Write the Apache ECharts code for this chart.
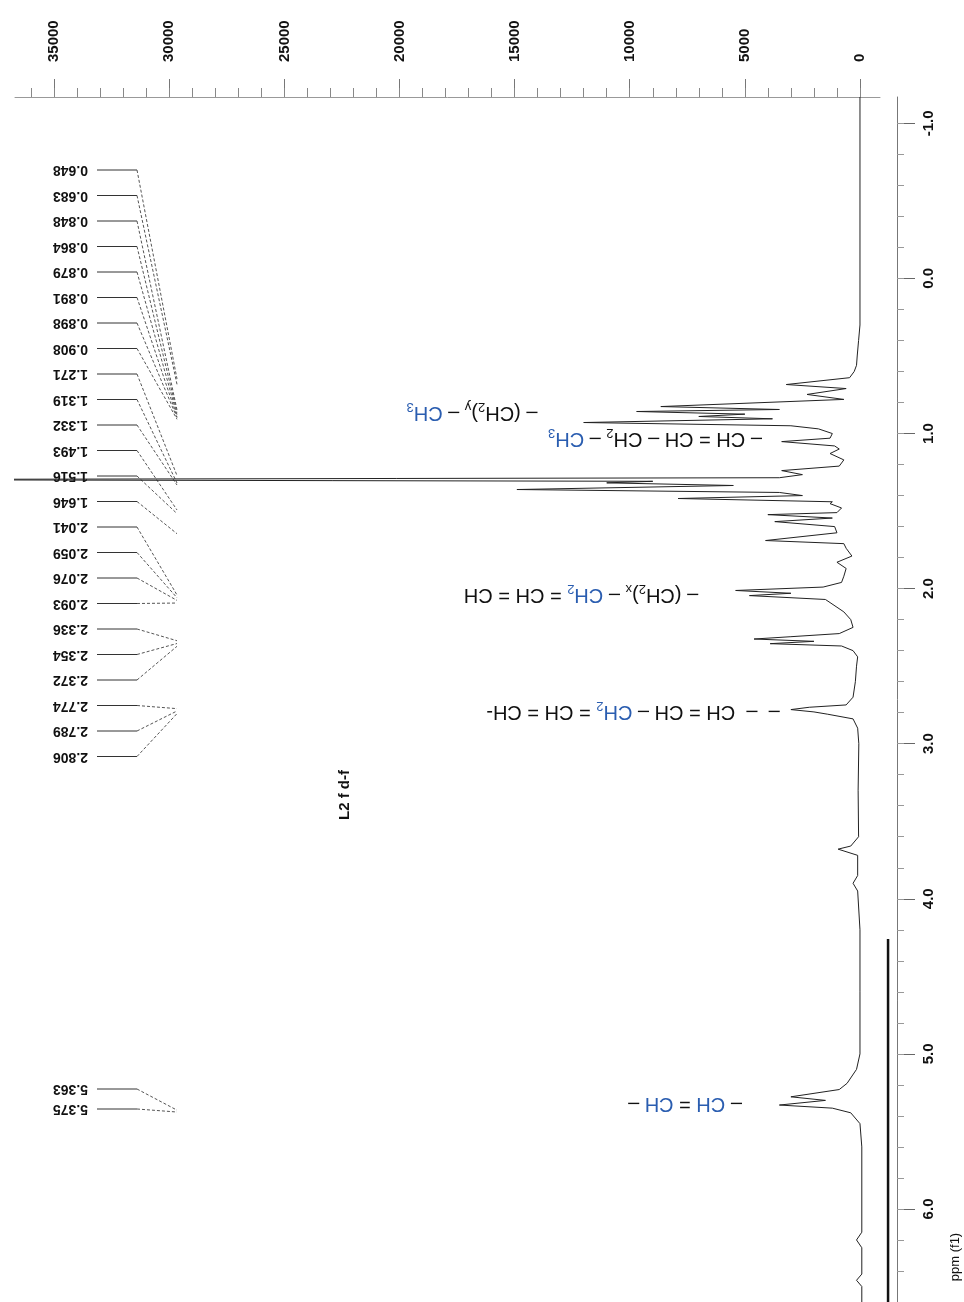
<!DOCTYPE html>
<html><head><meta charset="utf-8">
<script src="https://cdn.jsdelivr.net/npm/echarts@6/dist/echarts.min.js"></script>
<style>html,body{margin:0;padding:0;background:#fff}#c{width:964px;height:1302px}</style>
</head><body><div id="c"></div>
<script>
// ---- data (rotated 1H NMR spectrum) ----
const specPpm = [-1.17,0.30,0.40,0.50,0.56,0.60,0.64,0.684,0.71,0.748,0.78,0.826,0.845,0.858,0.875,0.89,0.905,0.929,0.95,0.97,1.00,1.03,1.052,1.08,1.10,1.129,1.17,1.21,1.239,1.265,1.285,1.297,1.308,1.318,1.335,1.361,1.38,1.40,1.419,1.44,1.452,1.48,1.51,1.523,1.545,1.568,1.60,1.64,1.69,1.71,1.74,1.79,1.83,1.87,1.92,1.96,1.99,2.012,2.03,2.045,2.07,2.09,2.15,2.20,2.25,2.29,2.31,2.325,2.34,2.355,2.37,2.40,2.44,2.50,2.60,2.70,2.75,2.765,2.78,2.795,2.81,2.84,2.90,3.00,3.30,3.60,3.66,3.68,3.72,3.85,3.90,3.95,4.20,4.60,5.00,5.10,5.19,5.23,5.277,5.30,5.33,5.35,5.38,5.45,5.60,6.15,6.20,6.25,6.42,6.46,6.50,6.60];
const specIntensity = [0,0,60,120,150,250,450,3200,600,2300,700,8650,3500,9700,5000,7000,3800,12000,3000,1800,1200,1300,3400,1100,900,1300,700,900,3400,2500,3500,45000,9000,11000,5500,14900,3500,2500,7900,1200,1300,800,1000,4000,1200,3700,1100,1000,4100,700,600,350,1000,600,700,800,1600,5400,3000,4800,1500,1300,700,400,300,900,3000,4600,2000,3900,800,300,100,150,200,300,600,2200,3000,2000,1400,300,100,50,80,60,400,950,100,100,300,100,0,0,0,150,560,900,3000,1500,3500,1200,400,0,-80,-80,150,-80,-80,150,-80,-80];

const peakLabels = ['0.648','0.683','0.848','0.864','0.879','0.891','0.898','0.908','1.271','1.319','1.332','1.493','1.516','1.646','2.041','2.059','2.076','2.093','2.336','2.354','2.372','2.774','2.789','2.806'];
const olefinLabels = ['5.363','5.375'];

const intensityTicks = [0,5000,10000,15000,20000,25000,30000,35000];
const intensityMinorTicks = [0,1000,2000,3000,4000,5000,6000,7000,8000,9000,10000,11000,12000,13000,14000,15000,16000,17000,18000,19000,20000,21000,22000,23000,24000,25000,26000,27000,28000,29000,30000,31000,32000,33000,34000,35000,36000];
const ppmTicks = [-1,0,1,2,3,4,5,6];
const ppmMinorTicks = [-1,-0.8,-0.6,-0.4,-0.2,0,0.2,0.4,0.6,0.8,1,1.2,1.4,1.6,1.8,2,2.2,2.4,2.6,2.8,3,3.2,3.4,3.6,3.8,4,4.2,4.4,4.6,4.8,5,5.2,5.4,5.6,5.8,6,6.2,6.4];

const edgeIntensity = [-1220,-1220];
const edgePpm = [4.26,6.6];

const FONT = 'Liberation Sans';
const BLUE = '#2a5db0';

const chart = echarts.init(document.getElementById('c'), null, {renderer:'canvas'});
const X_MIN = -870, X_MAX = 36700, Y_MIN = -1.17, Y_MAX = 6.6;

chart.setOption({
  animation: false,
  backgroundColor: '#fff',
  grid: {left: 15, right: 84, top: 97, bottom: 0, containLabel: false},
  xAxis: [{
    type: 'value', position: 'top', inverse: true, min: X_MIN, max: X_MAX,
    axisLine: {show: true, onZero: false, lineStyle: {color: '#999', width: 1}},
    axisTick: {show: true, customValues: intensityTicks, length: 18, lineStyle: {color: '#777'}},
    axisLabel: {show: true, customValues: intensityTicks, rotate: -90, margin: 35,
      color: '#111', fontSize: 15, fontWeight: 'bold', fontFamily: FONT,
      formatter: v => String(v)},
    splitLine: {show: false}
  },{
    type: 'value', position: 'top', inverse: true, min: X_MIN, max: X_MAX,
    axisLine: {show: false, onZero: false},
    axisTick: {show: true, customValues: intensityMinorTicks, length: 9, lineStyle: {color: '#888'}},
    axisLabel: {show: false}, splitLine: {show: false}
  }],
  yAxis: [{
    type: 'value', position: 'right', offset: 17, inverse: true, min: Y_MIN, max: Y_MAX,
    axisLine: {show: true, onZero: false, lineStyle: {color: '#777', width: 1}},
    axisTick: {show: true, customValues: ppmTicks, length: 18, lineStyle: {color: '#666'}},
    axisLabel: {show: true, customValues: ppmTicks, rotate: 90, margin: 24,
      color: '#111', fontSize: 15, fontWeight: 'bold', fontFamily: FONT,
      formatter: v => v.toFixed(1)},
    splitLine: {show: false}
  },{
    type: 'value', position: 'right', offset: 17, inverse: true, min: Y_MIN, max: Y_MAX,
    axisLine: {show: false, onZero: false},
    axisTick: {show: true, customValues: ppmMinorTicks, length: 7, lineStyle: {color: '#999'}},
    axisLabel: {show: false}, splitLine: {show: false}
  }],
  series: [{
    type: 'line', xAxisIndex: 0, yAxisIndex: 0, showSymbol: false, symbol: 'none',
    data: specPpm.map((p, i) => [specIntensity[i], p]),
    lineStyle: {color: '#222', width: 1}, silent: true
  }]
});

const g = [];
function pyOf(ppm){ return chart.convertToPixel({yAxisIndex: 0}, ppm); }
function pxOf(v){ return chart.convertToPixel({xAxisIndex: 0}, v); }

// scan edge line, placed through the axes' scales
g.push({type:'line', shape:{x1: pxOf(edgeIntensity[0]), y1: pyOf(edgePpm[0]), x2: pxOf(edgeIntensity[1]), y2: pyOf(edgePpm[1])},
  style:{stroke:'#111', lineWidth: 2.5}});

// ---- peak label leaders ----
function addLabel(text, ly){
  const py = pyOf(Number(text));
  g.push({type:'text', x: 88, y: ly, rotation: Math.PI,
    style:{text: text, fill:'#111', fontSize: 14, fontWeight: 'bold', fontFamily: FONT, align:'left', verticalAlign:'middle'}});
  g.push({type:'line', shape:{x1: 97, y1: ly, x2: 137, y2: ly}, style:{stroke:'#333', lineWidth:1}});
  g.push({type:'line', shape:{x1: 137, y1: ly, x2: 177, y2: py}, style:{stroke:'#555', lineWidth:1, lineDash:[3,2]}});
}
peakLabels.forEach((t, i) => addLabel(t, 170 + 25.5 * i));
olefinLabels.forEach((t, i) => addLabel(t, 1089 + 20 * i));

const rich = {
  s: {fontSize: 13, fontFamily: FONT, fill: '#111', verticalAlign: 'bottom', lineHeight: 26},
  b: {fontSize: 20, fontFamily: FONT, fill: BLUE, lineHeight: 26},
  bs: {fontSize: 13, fontFamily: FONT, fill: BLUE, verticalAlign: 'bottom', lineHeight: 26}
};
function ann(text, x, y){
  g.push({type:'text', x: x, y: y, rotation: Math.PI,
    style:{text: text, rich: rich, fill:'#111', fontSize: 20, fontFamily: FONT, lineHeight: 26,
      align:'center', verticalAlign:'middle'}});
}
ann('– (CH{s|2}){s|y} – {b|CH}{bs|3}', 472, 413);
ann('– CH = CH – CH{s|2} – {b|CH}{bs|3}', 655, 439);
ann('– (CH{s|2}){s|x} – {b|CH}{bs|2} = CH = CH', 581, 595);
ann('–  –  CH = CH – {b|CH}{bs|2} = CH = CH-', 633, 712);
ann('– {b|CH} = {b|CH} –', 685, 1104);

g.push({type:'text', x: 345, y: 795, rotation: Math.PI/2,
  style:{text:'L2 f d-f', fill:'#111', fontSize: 15, fontWeight: 'bold', fontFamily: FONT, align:'center', verticalAlign:'middle'}});
g.push({type:'text', x: 955, y: 1257, rotation: Math.PI/2,
  style:{text:'ppm (f1)', fill:'#111', fontSize: 13, fontFamily: FONT, align:'center', verticalAlign:'middle'}});

chart.setOption({graphic: g});
</script>
</body></html>
